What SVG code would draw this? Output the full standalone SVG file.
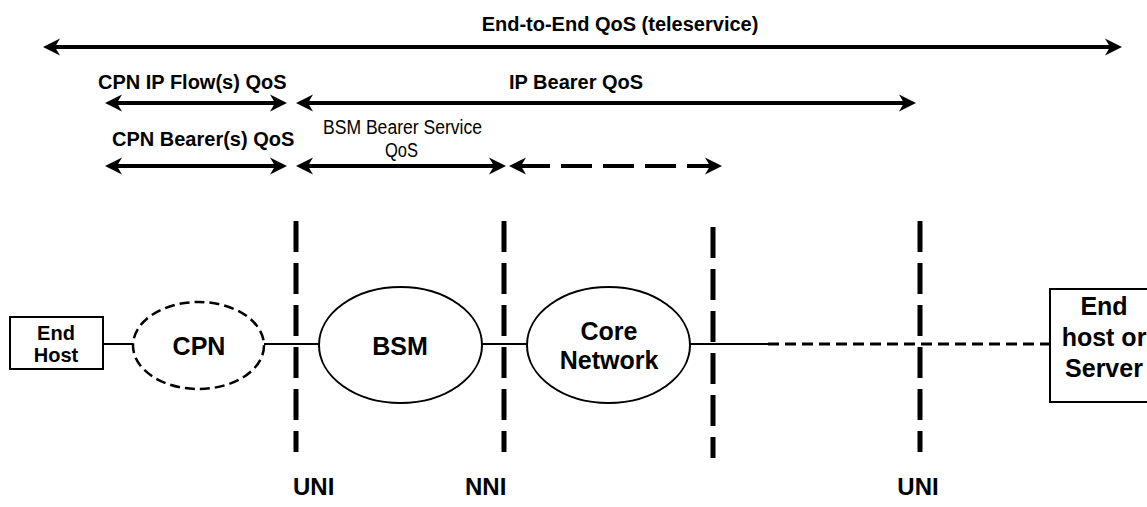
<svg xmlns="http://www.w3.org/2000/svg" width="1147" height="507" viewBox="0 0 1147 507">
<style>
.b{font-family:"Liberation Sans",Arial,sans-serif;font-weight:bold;fill:#000}
.r{font-family:"Liberation Sans",Arial,sans-serif;fill:#000}
.arr{stroke:#000;stroke-width:4;fill:none;marker-start:url(#ah);marker-end:url(#ah)}
.iface{stroke:#000;stroke-width:5;stroke-dasharray:31 11;fill:none}
.link{stroke:#000;stroke-width:2;fill:none}
.shape{fill:#fff;stroke:#000;stroke-width:2}
</style>
<defs>
<marker id="ah" viewBox="-28 -9 29 18" refX="-10" refY="0" markerWidth="29" markerHeight="18" markerUnits="userSpaceOnUse" orient="auto-start-reverse">
<path d="M0,0 L-17,-8.5 L-12,0 L-17,8.5 Z" fill="#000"/>
</marker>
</defs>
<rect width="1147" height="507" fill="#fff"/>

<g id="connectors">
<line class="iface" x1="296" y1="221" x2="296" y2="452"/>
<line class="iface" x1="504" y1="221" x2="504" y2="452"/>
<line class="iface" x1="713" y1="227" x2="713" y2="458"/>
<line class="iface" x1="920" y1="221" x2="920" y2="452"/>
<line class="link" x1="103" y1="344" x2="133" y2="344"/>
<line class="link" x1="264" y1="344" x2="319" y2="344"/>
<line class="link" x1="482" y1="344" x2="527" y2="344"/>
<line class="link" x1="690" y1="344" x2="768" y2="344"/>
<line x1="768" y1="344" x2="1050" y2="344" stroke="#000" stroke-width="3" stroke-dasharray="11 6"/>
<line class="arr" x1="53" y1="47" x2="1112" y2="47"/>
<line class="arr" x1="115" y1="103" x2="277" y2="103"/>
<line class="arr" x1="306" y1="103" x2="906" y2="103"/>
<line class="arr" x1="115" y1="166" x2="277" y2="166"/>
<line class="arr" x1="306" y1="166" x2="496" y2="166"/>
<line class="arr" x1="519" y1="166" x2="712" y2="166" stroke-dasharray="31 11"/>
</g>

<g id="labels">
<text class="b" x="620" y="31" font-size="20" text-anchor="middle">End-to-End QoS (teleservice)</text>
<text class="b" x="98" y="89" font-size="20">CPN IP Flow(s) QoS</text>
<text class="b" x="509" y="89" font-size="20">IP Bearer QoS</text>
<text class="b" x="112" y="146" font-size="20">CPN Bearer(s) QoS</text>
<text class="r" x="323" y="134" font-size="20" textLength="159" lengthAdjust="spacingAndGlyphs">BSM Bearer Service</text>
<text class="r" x="385" y="157" font-size="20" textLength="33" lengthAdjust="spacingAndGlyphs">QoS</text>
<text class="b" x="293" y="495" font-size="24">UNI</text>
<text class="b" x="465" y="495" font-size="24">NNI</text>
<text class="b" x="918" y="495" font-size="24" text-anchor="middle">UNI</text>
</g>

<g id="end-host">
<rect class="shape" x="10" y="317" width="93" height="52"/>
<text class="b" x="56" y="340" font-size="20" text-anchor="middle">End</text>
<text class="b" x="56" y="362" font-size="20" text-anchor="middle">Host</text>
</g>

<g id="cpn">
<ellipse cx="198.5" cy="345.5" rx="65.5" ry="43.5" fill="#fff" stroke="#000" stroke-width="2.5" stroke-dasharray="10 5"/>
<text class="b" x="199" y="355" font-size="25" text-anchor="middle">CPN</text>
</g>

<g id="bsm">
<ellipse class="shape" cx="400.5" cy="345" rx="81.5" ry="58"/>
<text class="b" x="400" y="355" font-size="25" text-anchor="middle">BSM</text>
</g>

<g id="core-network">
<ellipse class="shape" cx="608.5" cy="345" rx="81.5" ry="58"/>
<text class="b" x="609" y="340" font-size="25" text-anchor="middle">Core</text>
<text class="b" x="609" y="369" font-size="25" text-anchor="middle">Network</text>
</g>

<g id="end-server">
<rect class="shape" x="1050" y="289" width="120" height="113"/>
<text class="b" x="1104" y="315" font-size="25" text-anchor="middle">End</text>
<text class="b" x="1104" y="346" font-size="25" text-anchor="middle">host or</text>
<text class="b" x="1104" y="377" font-size="25" text-anchor="middle">Server</text>
</g>
</svg>
